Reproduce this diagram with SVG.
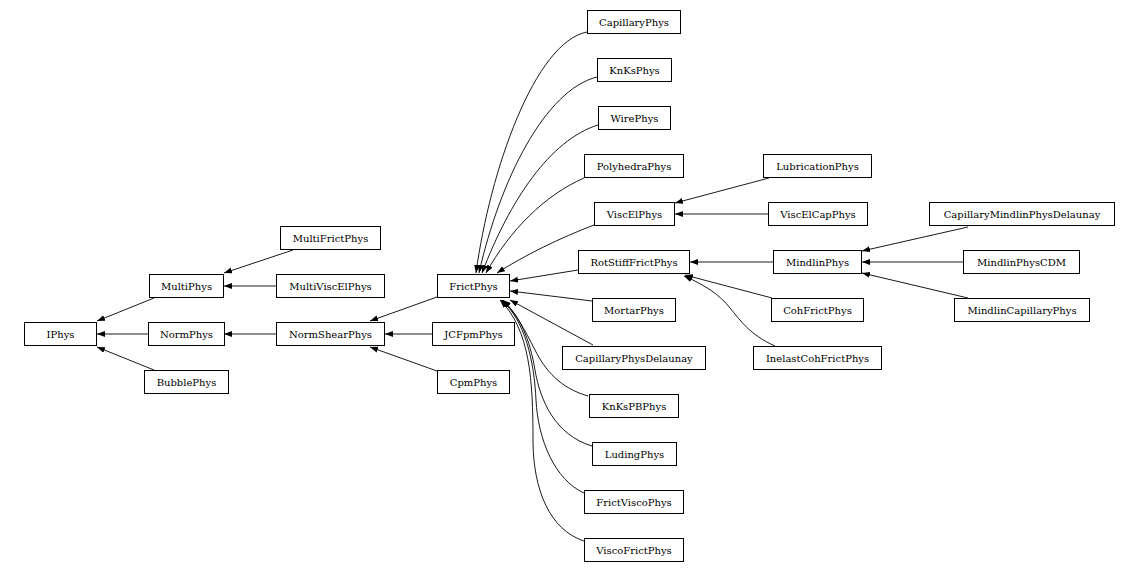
<svg xmlns="http://www.w3.org/2000/svg" width="1138" height="572" viewBox="0 0 1138 572">
<style>
.n rect{fill:#fff;stroke:#000;stroke-width:1}
.n text{font-family:"DejaVu Serif","Liberation Serif",serif;font-size:10px;fill:#000;text-anchor:middle}
.e path{fill:none;stroke:#000;stroke-width:0.9}
</style>
<defs>
<marker id="ah" markerUnits="userSpaceOnUse" markerWidth="9" markerHeight="7" refX="8" refY="3" orient="auto">
<path d="M0,0 L8,3 L0,6 z" fill="#000"/>
</marker>
</defs>
<rect width="1138" height="572" fill="#fff"/>
<g class="e" marker-end="url(#ah)">
<path d="M154,298 L97,321" marker-end="url(#ah)"/>
<path d="M148,334 L97,334" marker-end="url(#ah)"/>
<path d="M154,370 L97,347" marker-end="url(#ah)"/>
<path d="M293,250 L224,273" marker-end="url(#ah)"/>
<path d="M276,286 L224,286" marker-end="url(#ah)"/>
<path d="M276,334 L224,334" marker-end="url(#ah)"/>
<path d="M437,297 L370,321" marker-end="url(#ah)"/>
<path d="M432,334 L385,334" marker-end="url(#ah)"/>
<path d="M437,371 L370,347" marker-end="url(#ah)"/>
<path d="M587,32 C535,42 490,170 476,273" marker-end="url(#ah)"/>
<path d="M597,77 C545,90 500,180 479,273" marker-end="url(#ah)"/>
<path d="M598,125 C550,140 510,200 482,273" marker-end="url(#ah)"/>
<path d="M584,178 C545,195 510,230 486,273" marker-end="url(#ah)"/>
<path d="M594,225 C560,238 525,255 497,273" marker-end="url(#ah)"/>
<path d="M578,270 L510,281" marker-end="url(#ah)"/>
<path d="M592,301 L510,291" marker-end="url(#ah)"/>
<path d="M593,345 L510,300" marker-end="url(#ah)"/>
<path d="M588,396 C560,388 545,370 535,350 C525,330 515,312 503,300" marker-end="url(#ah)"/>
<path d="M592,446 C555,435 540,400 535,370 C530,340 520,315 502,300" marker-end="url(#ah)"/>
<path d="M584,493 C555,480 538,440 536,400 C534,360 525,320 501,300" marker-end="url(#ah)"/>
<path d="M584,541 C550,530 533,490 533,440 C533,380 530,330 500,300" marker-end="url(#ah)"/>
<path d="M769,178 L675,203" marker-end="url(#ah)"/>
<path d="M768,214 L675,214" marker-end="url(#ah)"/>
<path d="M773,262 L690,262" marker-end="url(#ah)"/>
<path d="M772,298 L685,275" marker-end="url(#ah)"/>
<path d="M775,346 C750,335 740,320 730,308 C720,295 705,285 684,276" marker-end="url(#ah)"/>
<path d="M968,227 L862,251" marker-end="url(#ah)"/>
<path d="M963,262 L862,262" marker-end="url(#ah)"/>
<path d="M968,298 L862,273" marker-end="url(#ah)"/>
</g>
<g id="IPhys" class="n"><rect x="24.5" y="322.5" width="72" height="23"/><text x="60.5" y="337.5">IPhys</text></g>
<g id="MultiPhys" class="n"><rect x="149.5" y="274.5" width="74" height="23"/><text x="186.5" y="289.5">MultiPhys</text></g>
<g id="NormPhys" class="n"><rect x="148.5" y="322.5" width="76" height="23"/><text x="186.5" y="337.5">NormPhys</text></g>
<g id="BubblePhys" class="n"><rect x="144.5" y="370.5" width="84" height="23"/><text x="186.5" y="385.5">BubblePhys</text></g>
<g id="MultiFrictPhys" class="n"><rect x="280.5" y="226.5" width="100" height="23"/><text x="330.5" y="241.5">MultiFrictPhys</text></g>
<g id="MultiViscElPhys" class="n"><rect x="276.5" y="274.5" width="108" height="23"/><text x="330.5" y="289.5">MultiViscElPhys</text></g>
<g id="NormShearPhys" class="n"><rect x="276.5" y="322.5" width="108" height="23"/><text x="330.5" y="337.5">NormShearPhys</text></g>
<g id="FrictPhys" class="n"><rect x="437.5" y="274.5" width="72" height="23"/><text x="473.5" y="289.5">FrictPhys</text></g>
<g id="JCFpmPhys" class="n"><rect x="432.5" y="322.5" width="82" height="23"/><text x="473.5" y="337.5">JCFpmPhys</text></g>
<g id="CpmPhys" class="n"><rect x="437.5" y="370.5" width="72" height="23"/><text x="473.5" y="385.5">CpmPhys</text></g>
<g id="CapillaryPhys" class="n"><rect x="587.5" y="10.5" width="93" height="23"/><text x="634" y="25.5">CapillaryPhys</text></g>
<g id="KnKsPhys" class="n"><rect x="597.5" y="58.5" width="74" height="23"/><text x="634.5" y="73.5">KnKsPhys</text></g>
<g id="WirePhys" class="n"><rect x="598.5" y="106.5" width="72" height="23"/><text x="634.5" y="121.5">WirePhys</text></g>
<g id="PolyhedraPhys" class="n"><rect x="584.5" y="154.5" width="99" height="23"/><text x="634" y="169.5">PolyhedraPhys</text></g>
<g id="ViscElPhys" class="n"><rect x="594.5" y="202.5" width="80" height="23"/><text x="634.5" y="217.5">ViscElPhys</text></g>
<g id="RotStiffFrictPhys" class="n"><rect x="578.5" y="250.5" width="111" height="23"/><text x="634" y="265.5">RotStiffFrictPhys</text></g>
<g id="MortarPhys" class="n"><rect x="592.5" y="298.5" width="83" height="23"/><text x="634" y="313.5">MortarPhys</text></g>
<g id="CapillaryPhysDelaunay" class="n"><rect x="562.5" y="346.5" width="143" height="23"/><text x="634" y="361.5">CapillaryPhysDelaunay</text></g>
<g id="KnKsPBPhys" class="n"><rect x="589.5" y="394.5" width="89" height="23"/><text x="634" y="409.5">KnKsPBPhys</text></g>
<g id="LudingPhys" class="n"><rect x="592.5" y="442.5" width="84" height="23"/><text x="634.5" y="457.5">LudingPhys</text></g>
<g id="FrictViscoPhys" class="n"><rect x="584.5" y="490.5" width="99" height="23"/><text x="634" y="505.5">FrictViscoPhys</text></g>
<g id="ViscoFrictPhys" class="n"><rect x="584.5" y="538.5" width="99" height="23"/><text x="634" y="553.5">ViscoFrictPhys</text></g>
<g id="LubricationPhys" class="n"><rect x="763.5" y="154.5" width="108" height="23"/><text x="817.5" y="169.5">LubricationPhys</text></g>
<g id="ViscElCapPhys" class="n"><rect x="768.5" y="202.5" width="99" height="23"/><text x="818" y="217.5">ViscElCapPhys</text></g>
<g id="MindlinPhys" class="n"><rect x="773.5" y="250.5" width="88" height="23"/><text x="817.5" y="265.5">MindlinPhys</text></g>
<g id="CohFrictPhys" class="n"><rect x="771.5" y="298.5" width="92" height="23"/><text x="817.5" y="313.5">CohFrictPhys</text></g>
<g id="InelastCohFrictPhys" class="n"><rect x="753.5" y="346.5" width="128" height="23"/><text x="817.5" y="361.5">InelastCohFrictPhys</text></g>
<g id="CapillaryMindlinPhysDelaunay" class="n"><rect x="929.5" y="202.5" width="185" height="23"/><text x="1022" y="217.5">CapillaryMindlinPhysDelaunay</text></g>
<g id="MindlinPhysCDM" class="n"><rect x="963.5" y="250.5" width="116" height="23"/><text x="1021.5" y="265.5">MindlinPhysCDM</text></g>
<g id="MindlinCapillaryPhys" class="n"><rect x="954.5" y="298.5" width="135" height="23"/><text x="1022" y="313.5">MindlinCapillaryPhys</text></g>
</svg>
